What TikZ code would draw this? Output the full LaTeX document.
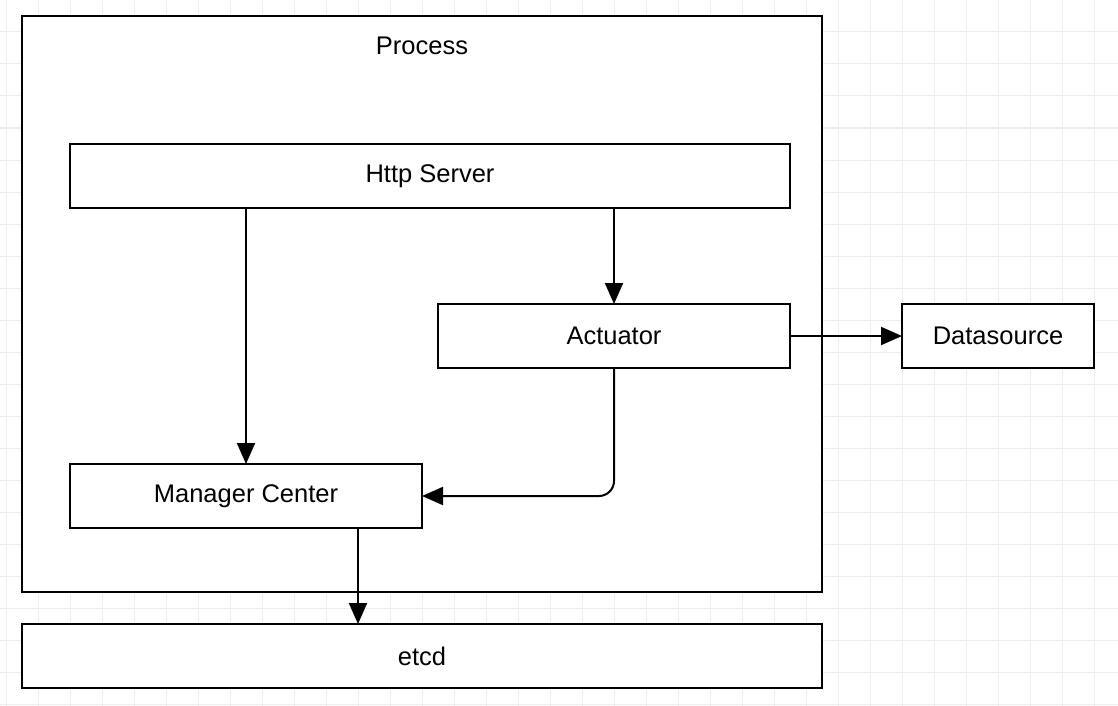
\documentclass[tikz,border=0pt]{standalone}
\usepackage{fontspec}
\setmainfont{Liberation Sans}
\usetikzlibrary{positioning, arrows.meta}

\begin{document}
\begin{tikzpicture}[
    x=1pt, y=-1pt,
    >={Triangle[length=21pt, width=18pt]}, % Filled triangle tips
    % Styles
    box/.style={ % Plain block
        rectangle,
        draw,
        line width=2pt,
        fill=white,
        inner sep=0pt,
        outer sep=0pt,
        minimum height=64pt,
        font=\fontsize{25.5}{30}\selectfont
    },
    label/.style={
        font=\fontsize{25.5}{30}\selectfont
    },
    arrow/.style={
        ->,
        line width=2pt
    },
    gridline/.style={ % Background grid
        draw=black!7,
        line width=1pt
    }
]
    \useasboundingbox (0,0) rectangle (1118,706);

    % Grid
    \foreach \x in {0,...,34}
        \draw[gridline] (6.7+\x*32, 0) -- (6.7+\x*32, 706);
    \foreach \y in {0,...,22}
        \draw[gridline] (0, \y*32) -- (1118, \y*32);

    % Process
    \node at (422, 304) [box, minimum width=800pt, minimum height=576pt] (process) {};
    \node at (422, 46) [label] (processlabel) {Process};

    % Blocks
    \node at (430, 176) [box, minimum width=720pt] (http) {Http Server};
    \node at (614, 336) [box, minimum width=352pt] (actuator) {Actuator};
    \node at (998, 336) [box, minimum width=192pt] (datasource) {Datasource};
    \node at (246, 496) [box, minimum width=352pt] (manager) {Manager Center};
    \node at (422, 656) [box, minimum width=800pt] (etcd) {etcd};
    \coordinate (managerout) at (358, 528);

    % Connectors
    \draw [arrow] (manager.north |- http.south) -- (manager.north);
    \draw [arrow] (actuator.north |- http.south) -- (actuator.north);
    \draw [arrow] (actuator.east) -- (datasource.west);
    \draw [arrow, rounded corners=15pt] (actuator.south) |- (manager.east);
    \draw [arrow] (managerout) -- (managerout |- etcd.north);
\end{tikzpicture}
\end{document}
